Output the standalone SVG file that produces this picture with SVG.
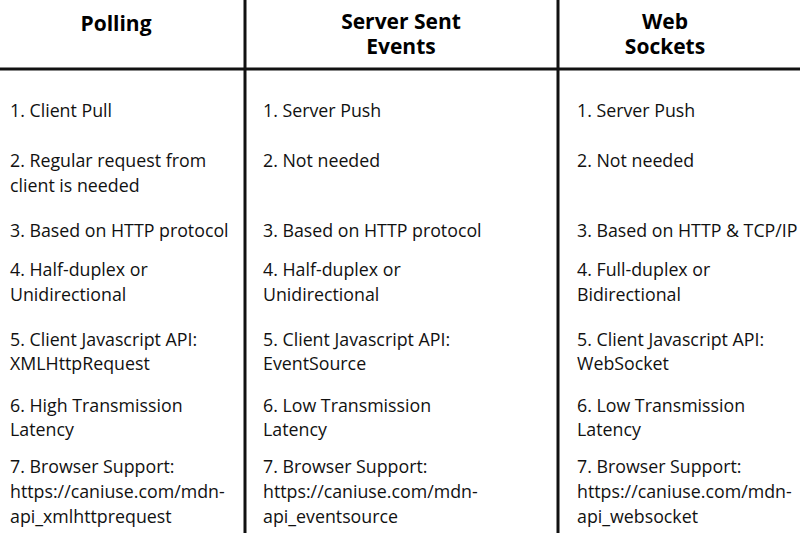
<svg xmlns="http://www.w3.org/2000/svg" width="800" height="533" viewBox="0 0 800 533">
<style>
.h{font-family:"Open Sans","Liberation Sans",sans-serif;font-weight:bold;font-size:21px;fill:#000;text-anchor:middle}
.t{font-family:"Open Sans","Liberation Sans",sans-serif;font-size:17.8px;fill:#111}
.ln{stroke:#111;stroke-width:3;fill:none}
</style>
<rect width="800" height="533" fill="#fff"/>
<g id="connectors">
<line class="ln" x1="0" y1="69" x2="800" y2="69"/>
<line class="ln" x1="245" y1="0" x2="245" y2="533"/>
<line class="ln" x1="558" y1="0" x2="558" y2="533"/>
</g>
<g id="header-polling"><text class="h" x="116" y="31">Polling</text></g>
<g id="header-sse"><text class="h" x="401" y="29">Server Sent</text><text class="h" x="401" y="54">Events</text></g>
<g id="header-ws"><text class="h" x="665" y="29">Web</text><text class="h" x="665" y="54">Sockets</text></g>
<g id="col-polling">
<text class="t" x="10" y="117">1. Client Pull</text>
<text class="t" x="10" y="167">2. Regular request from</text>
<text class="t" x="10" y="192">client is needed</text>
<text class="t" x="10" y="237">3. Based on HTTP protocol</text>
<text class="t" x="10" y="276">4. Half-duplex or</text>
<text class="t" x="10" y="301">Unidirectional</text>
<text class="t" x="10" y="346">5. Client Javascript API:</text>
<text class="t" x="10" y="370">XMLHttpRequest</text>
<text class="t" x="10" y="412">6. High Transmission</text>
<text class="t" x="10" y="436">Latency</text>
<text class="t" x="10" y="473">7. Browser Support:</text>
<text class="t" x="10" y="498">https://caniuse.com/mdn-</text>
<text class="t" x="10" y="523">api_xmlhttprequest</text>
</g>
<g id="col-sse">
<text class="t" x="263" y="117">1. Server Push</text>
<text class="t" x="263" y="167">2. Not needed</text>
<text class="t" x="263" y="237">3. Based on HTTP protocol</text>
<text class="t" x="263" y="276">4. Half-duplex or</text>
<text class="t" x="263" y="301">Unidirectional</text>
<text class="t" x="263" y="346">5. Client Javascript API:</text>
<text class="t" x="263" y="370">EventSource</text>
<text class="t" x="263" y="412">6. Low Transmission</text>
<text class="t" x="263" y="436">Latency</text>
<text class="t" x="263" y="473">7. Browser Support:</text>
<text class="t" x="263" y="498">https://caniuse.com/mdn-</text>
<text class="t" x="263" y="523">api_eventsource</text>
</g>
<g id="col-ws">
<text class="t" x="577" y="117">1. Server Push</text>
<text class="t" x="577" y="167">2. Not needed</text>
<text class="t" x="577" y="237">3. Based on HTTP &amp; TCP/IP</text>
<text class="t" x="577" y="276">4. Full-duplex or</text>
<text class="t" x="577" y="301">Bidirectional</text>
<text class="t" x="577" y="346">5. Client Javascript API:</text>
<text class="t" x="577" y="370">WebSocket</text>
<text class="t" x="577" y="412">6. Low Transmission</text>
<text class="t" x="577" y="436">Latency</text>
<text class="t" x="577" y="473">7. Browser Support:</text>
<text class="t" x="577" y="498">https://caniuse.com/mdn-</text>
<text class="t" x="577" y="523">api_websocket</text>
</g>
</svg>
